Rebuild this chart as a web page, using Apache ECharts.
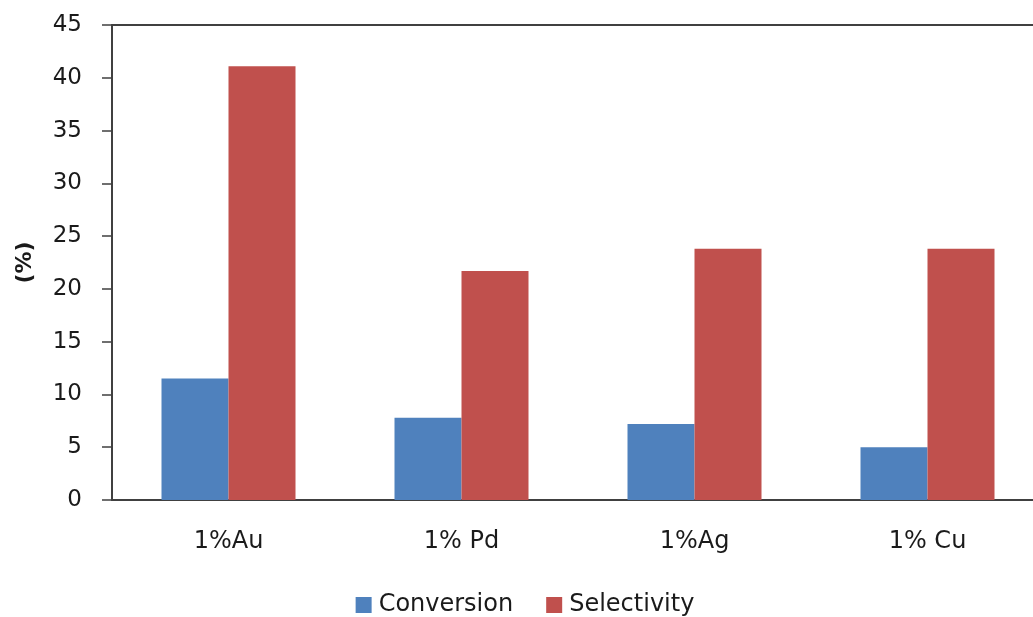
<!DOCTYPE html>
<html>
<head>
<meta charset="utf-8">
<script src="https://cdn.jsdelivr.net/npm/echarts@6/dist/echarts.min.js"></script>
<style>
  html, body { margin: 0; padding: 0; background: #ffffff; overflow: hidden; }
  #chart { width: 1050px; height: 617px; }
</style>
</head>
<body>
<div id="chart"></div>
<script>
// Catalyst samples and measured results (%)
const categories = ['1%Au', '1% Pd', '1%Ag', '1% Cu'];
const conversion = [11.5, 7.8, 7.2, 5.0];
const selectivity = [41.1, 21.7, 23.8, 23.8];
const yTicks = [0, 5, 10, 15, 20, 25, 30, 35, 40, 45];

const FONT = 'DejaVu Sans';
const AXIS_COLOR = '#404040';
const TEXT_COLOR = '#1a1a1a';

const chart = echarts.init(document.getElementById('chart'), null, { renderer: 'canvas' });

chart.setOption({
  animation: false,
  backgroundColor: '#ffffff',
  textStyle: { fontFamily: FONT },
  grid: { left: 112, top: 25, width: 932, height: 475, containLabel: false },
  legend: {
    data: ['Conversion', 'Selectivity'],
    bottom: 0,
    left: 'center',
    padding: 0,
    itemWidth: 16,
    itemHeight: 16,
    itemGap: 33,
    icon: 'rect',
    textStyle: { fontFamily: FONT, fontSize: 24, color: TEXT_COLOR, padding: [0, 0, 0, 2] }
  },
  xAxis: [
    {
      type: 'category',
      data: categories,
      position: 'bottom',
      axisLine: { lineStyle: { color: AXIS_COLOR, width: 2 } },
      axisTick: { show: false },
      axisLabel: { fontFamily: FONT, fontSize: 24, color: TEXT_COLOR, margin: 30 },
      splitLine: { show: false }
    },
    {
      type: 'category',
      data: categories,
      position: 'top',
      axisLine: { show: true, lineStyle: { color: AXIS_COLOR, width: 2 } },
      axisTick: { show: false },
      axisLabel: { show: false },
      splitLine: { show: false }
    }
  ],
  yAxis: {
    type: 'value',
    min: yTicks[0],
    max: yTicks[yTicks.length - 1],
    interval: yTicks[1] - yTicks[0],
    name: '(%)',
    nameLocation: 'middle',
    nameGap: 76,
    nameRotate: 90,
    nameTextStyle: { fontFamily: FONT, fontSize: 22, fontWeight: 'bold', color: TEXT_COLOR },
    axisLine: { show: true, lineStyle: { color: AXIS_COLOR, width: 2 } },
    axisTick: { show: true, length: 10, lineStyle: { color: AXIS_COLOR, width: 1.5 } },
    axisLabel: { fontFamily: FONT, fontSize: 23, color: TEXT_COLOR, margin: 30 },
    splitLine: { show: false }
  },
  series: [
    {
      name: 'Conversion',
      type: 'bar',
      data: conversion,
      barWidth: 67,
      barGap: '0%',
      itemStyle: { color: '#4F81BD' }
    },
    {
      name: 'Selectivity',
      type: 'bar',
      data: selectivity,
      barWidth: 67,
      barGap: '0%',
      itemStyle: { color: '#C0504D' }
    }
  ]
});
</script>
</body>
</html>
